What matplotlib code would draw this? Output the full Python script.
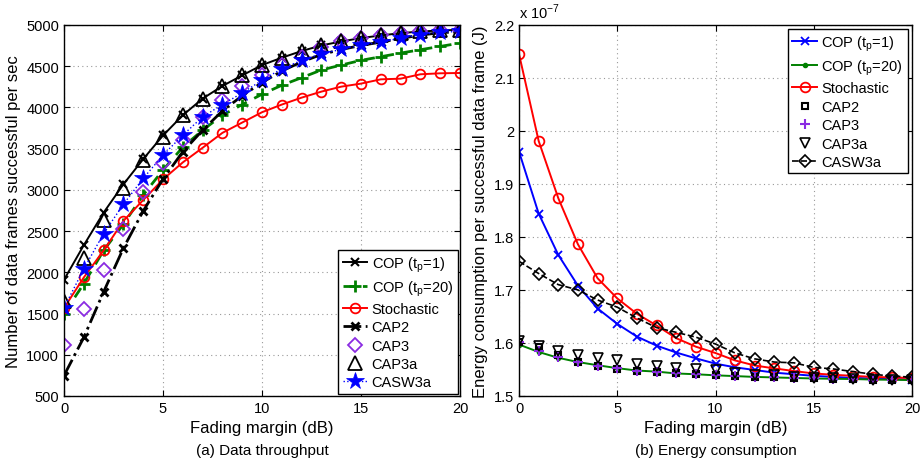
import matplotlib
matplotlib.use("Agg")
import matplotlib.pyplot as plt
import numpy as np

plt.rcParams["font.family"] = ["Liberation Sans", "DejaVu Sans"]
plt.rcParams["mathtext.fontset"] = "custom"
plt.rcParams["mathtext.rm"] = "Liberation Sans"

fading_db = np.arange(0, 21)

# (a) data throughput, frames per sec
thr_cop_tp1 = [1909, 2328, 2723, 3066, 3372, 3658, 3904, 4105, 4258, 4387, 4512,
               4601, 4682, 4750, 4798, 4839, 4871, 4899, 4919, 4931, 4940]
thr_cop_tp20 = [1500, 1861, 2264, 2582, 2937, 3239, 3517, 3722, 3904, 4033, 4158,
                4267, 4359, 4452, 4512, 4569, 4613, 4657, 4698, 4738, 4778]
thr_stoch = [1566, 1937, 2264, 2622, 2876, 3126, 3332, 3509, 3690, 3815, 3940,
             4033, 4117, 4190, 4250, 4287, 4339, 4347, 4400, 4412, 4416]
thr_cap2 = [748, 1210, 1762, 2292, 2743, 3130, 3461, 3722, 3956, 4140, 4300,
            4440, 4550, 4640, 4700, 4750, 4790, 4835, 4875, 4905, 4915]
thr_cap3 = [1114, 1553, 2030, 2526, 2969, 3328, 3602, 3884, 4093, 4258, 4395,
            4508, 4609, 4730, 4798, 4839, 4871, 4899, 4919, 4931, 4940]
thr_cap3a = [1647, 2171, 2634, 3017, 3360, 3642, 3904, 4105, 4258, 4387, 4512,
             4601, 4682, 4750, 4798, 4839, 4871, 4899, 4919, 4931, 4940]
thr_casw3a = [1570, 2040, 2469, 2824, 3138, 3420, 3662, 3884, 4033, 4174, 4327,
              4468, 4569, 4649, 4702, 4750, 4790, 4839, 4879, 4911, 4919]

# (b) energy per successful frame, in units of 1e-7 J
en_cop_tp1 = [1.961, 1.844, 1.766, 1.708, 1.665, 1.636, 1.612, 1.595, 1.582, 1.571, 1.561,
              1.554, 1.549, 1.544, 1.541, 1.538, 1.536, 1.534, 1.533, 1.532, 1.531]
en_cop_tp20 = [1.597, 1.583, 1.572, 1.564, 1.558, 1.5525, 1.548, 1.546, 1.5425, 1.541, 1.539,
               1.5375, 1.536, 1.535, 1.534, 1.533, 1.5325, 1.532, 1.531, 1.5306, 1.530]
en_stoch = [2.145, 1.981, 1.873, 1.786, 1.722, 1.684, 1.655, 1.633, 1.609, 1.593, 1.581,
            1.567, 1.5575, 1.552, 1.547, 1.5425, 1.540, 1.538, 1.536, 1.535, 1.534]
en_cap2 = [1.602, 1.592, 1.578, 1.564, 1.556, 1.550, 1.547, 1.545, 1.5425, 1.541, 1.539,
           1.5375, 1.536, 1.535, 1.534, 1.533, 1.5325, 1.532, 1.531, 1.5306, 1.530]
en_cap3 = [1.602, 1.585, 1.573, 1.565, 1.557, 1.552, 1.548, 1.546, 1.5425, 1.541, 1.539,
           1.5375, 1.536, 1.535, 1.534, 1.533, 1.5325, 1.532, 1.531, 1.5306, 1.530]
en_cap3a = [1.603, 1.594, 1.584, 1.578, 1.571, 1.5675, 1.561, 1.5575, 1.553, 1.550, 1.549,
            1.544, 1.540, 1.539, 1.536, 1.534, 1.533, 1.5325, 1.531, 1.531, 1.530]
en_casw3a = [1.754, 1.731, 1.710, 1.700, 1.681, 1.6675, 1.647, 1.629, 1.620, 1.611, 1.598,
             1.581, 1.570, 1.564, 1.5625, 1.554, 1.551, 1.546, 1.541, 1.5375, 1.5356]

GREEN = "#008000"
PURPLE = "#8a2be2"

L_POS = [64 / 921, 0.1444, 396 / 921, 0.80]
R_POS = [519 / 921, 0.1444, 393 / 921, 0.80]


def style_axes(ax):
    ax.tick_params(direction="in", top=True, right=True, labelsize=10.5, length=4)
    ax.grid(True, linestyle=(0, (1, 3)), color="#999999", linewidth=0.8)
    for s in ax.spines.values():
        s.set_linewidth(1.0)


fig = plt.figure(figsize=(9.21, 4.64), dpi=100)
ax1 = fig.add_axes(L_POS)
ax2 = fig.add_axes(R_POS)

tp1 = r"COP (t$_\mathregular{p}$=1)"
tp20 = r"COP (t$_\mathregular{p}$=20)"

# ---- (a) throughput ----
ax1.plot(fading_db, thr_cop_tp1, "-x", color="k", lw=1.4, ms=6, mew=1.5, label=tp1)
ax1.plot(fading_db, thr_cop_tp20, "--+", color=GREEN, lw=2.0, ms=8, mew=2.0,
         dashes=(4, 3), label=tp20)
ax1.plot(fading_db, thr_stoch, "-o", color="red", lw=1.4, ms=7, mfc="none", mew=1.3, label="Stochastic")
ax1.plot(fading_db, thr_cap2, "-.x", color="k", lw=2.0, ms=6, mew=2.0, label="CAP2")
ax1.plot(fading_db, thr_cap3, "D", color=PURPLE, ms=7, mfc="none", mew=1.3, label="CAP3")
ax1.plot(fading_db, thr_cap3a, "^", color="k", ms=10, mfc="none", mew=1.3, label="CAP3a")
ax1.plot(fading_db, thr_casw3a, ":*", color="blue", mfc="blue", lw=1.0, ms=13, mew=0.5, label="CASW3a")
ax1.set_xlim(0, 20)
ax1.set_ylim(500, 5000)
ax1.set_xticks([0, 5, 10, 15, 20])
ax1.set_yticks(np.arange(500, 5001, 500))
ax1.set_xlabel("Fading margin (dB)", fontsize=12)
ax1.set_ylabel("Number of data frames successful per sec", fontsize=12)
style_axes(ax1)
leg1 = ax1.legend(loc="lower right", fontsize=10.5, handlelength=1.7, handletextpad=0.3,
                  labelspacing=0.3, borderpad=0.3, borderaxespad=0.15, fancybox=False,
                  framealpha=1, edgecolor="k")
leg1.get_frame().set_linewidth(1.0)

# ---- (b) energy ----
ax2.plot(fading_db, en_cop_tp1, "-x", color="blue", lw=1.4, ms=6, mew=1.3, label=tp1)
ax2.plot(fading_db, en_cop_tp20, "-o", color=GREEN, lw=1.4, ms=3, label=tp20)
ax2.plot(fading_db, en_stoch, "-o", color="red", lw=1.4, ms=7, mfc="none", mew=1.3, label="Stochastic")
ax2.plot(fading_db, en_cap2, "s", color="k", ms=5, mfc="none", mew=1.5, label="CAP2")
ax2.plot(fading_db, en_cap3, "+", color=PURPLE, ms=7, mew=1.5, label="CAP3")
ax2.plot(fading_db, en_cap3a, "v", color="k", ms=6.5, mfc="none", mew=1.2, label="CAP3a")
ax2.plot(fading_db, en_casw3a, "--D", color="k", lw=1.2, ms=6, mfc="none", mew=1.2, label="CASW3a")
ax2.set_xlim(0, 20)
ax2.set_ylim(1.5, 2.2)
ax2.set_xticks([0, 5, 10, 15, 20])
ax2.set_yticks(np.arange(1.5, 2.21, 0.1))
ax2.set_yticklabels(["1.5", "1.6", "1.7", "1.8", "1.9", "2", "2.1", "2.2"])
ax2.set_xlabel("Fading margin (dB)", fontsize=12)
ax2.set_ylabel("Energy consumption per successful data frame (J)", fontsize=12)
style_axes(ax2)
ax2.text(0.0, 1.01, r"x 10$^{-7}$", transform=ax2.transAxes, fontsize=10.5, ha="left", va="bottom")
leg2 = ax2.legend(loc="upper right", fontsize=10.5, handlelength=1.7, handletextpad=0.3,
                  labelspacing=0.3, borderpad=0.3, borderaxespad=0.3, fancybox=False,
                  framealpha=1, edgecolor="k")
leg2.get_frame().set_linewidth(1.0)

fig.text(L_POS[0] + L_POS[2] / 2, 0.012, "(a) Data throughput", ha="center", va="bottom", fontsize=11)
fig.text(R_POS[0] + R_POS[2] / 2, 0.012, "(b) Energy consumption", ha="center", va="bottom", fontsize=11)

fig.savefig("out.png", dpi=100)
